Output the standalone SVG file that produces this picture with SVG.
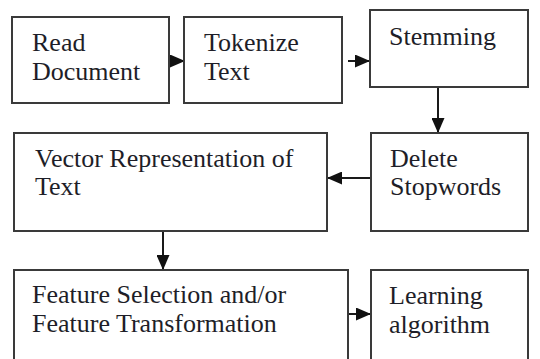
<svg xmlns="http://www.w3.org/2000/svg" width="540" height="359" viewBox="0 0 540 359">
<style>
.box{fill:#fff;stroke:#3a3a3a;stroke-width:2}
.t{font-family:"Liberation Serif","Times New Roman",serif;font-size:26px;fill:#1e1e28}
.c{stroke:#1a1a1a;stroke-width:2;fill:none}
</style>
<defs>
<marker id="ah" markerUnits="userSpaceOnUse" markerWidth="15" markerHeight="13" refX="15" refY="6.5" orient="auto">
<path d="M0,0 L15,6.5 L0,13 Z" fill="#111"/>
</marker>
</defs>
<rect width="540" height="359" fill="#fff"/>
<g id="connectors">
<line class="c" x1="169" y1="61" x2="185" y2="61" marker-end="url(#ah)"/>
<line class="c" x1="348" y1="61" x2="370" y2="61" marker-end="url(#ah)"/>
<line class="c" x1="438" y1="87" x2="438" y2="133" marker-end="url(#ah)"/>
<line class="c" x1="371" y1="178" x2="327" y2="178" marker-end="url(#ah)"/>
<line class="c" x1="163" y1="231" x2="163" y2="270" marker-end="url(#ah)"/>
<line class="c" x1="348" y1="314" x2="371" y2="314" marker-end="url(#ah)"/>
</g>
<g id="read">
<rect class="box" x="12" y="17" width="157" height="86"/>
<text class="t" x="32" y="51">Read</text>
<text class="t" x="32" y="80">Document</text>
</g>
<g id="tokenize">
<rect class="box" x="184" y="17" width="158" height="86"/>
<text class="t" x="204" y="51">Tokenize</text>
<text class="t" x="204" y="80">Text</text>
</g>
<g id="stemming">
<rect class="box" x="370" y="10" width="158" height="77"/>
<text class="t" x="389" y="45">Stemming</text>
</g>
<g id="delete">
<rect class="box" x="371" y="133" width="157" height="98"/>
<text class="t" x="390" y="167">Delete</text>
<text class="t" x="390" y="195">Stopwords</text>
</g>
<g id="vector">
<rect class="box" x="14" y="133" width="313" height="98"/>
<text class="t" x="35" y="167">Vector Representation of</text>
<text class="t" x="35" y="195">Text</text>
</g>
<g id="feature">
<rect class="box" x="14" y="270" width="334" height="100"/>
<text class="t" x="32" y="303">Feature Selection and/or</text>
<text class="t" x="32" y="332">Feature Transformation</text>
</g>
<g id="learning">
<rect class="box" x="371" y="270" width="157" height="100"/>
<text class="t" x="389" y="304">Learning</text>
<text class="t" x="389" y="333">algorithm</text>
</g>
</svg>
